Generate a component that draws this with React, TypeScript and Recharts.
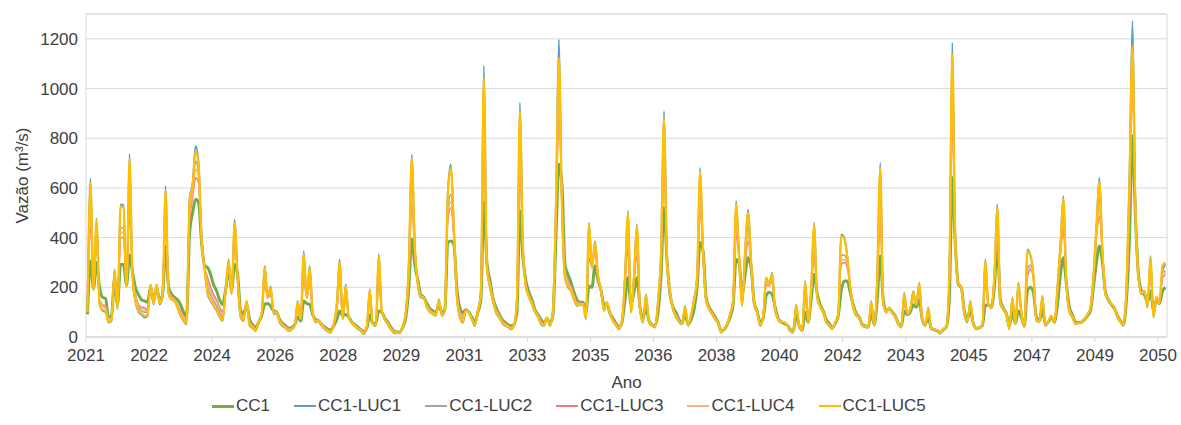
import { LineChart, Line, XAxis, YAxis, CartesianGrid, ReferenceArea } from 'recharts';

// Monthly discharge (m³/s), Jan 2021 – Dec 2050, one row per year
const yearLabels = ['2021', '2022', '2024', '2026', '2028', '2029', '2031', '2033', '2035', '2036', '2038', '2040', '2042', '2043', '2045', '2047', '2049', '2050'];
const yTicks = [0, 200, 400, 600, 800, 1000, 1200];

const cc1 = [
  91, 306, 195, 300, 200, 160, 155, 80, 85, 230, 130, 292,
  292, 210, 330, 260, 198, 170, 150, 145, 140, 200, 145, 200,
  150, 170, 366, 200, 172, 160, 150, 130, 100, 85, 420, 500,
  554, 541, 380, 286, 279, 252, 210, 185, 150, 131, 190, 270,
  190, 292, 250, 105, 95, 130, 70, 50, 38, 60, 85, 131,
  135, 125, 105, 100, 70, 55, 45, 35, 38, 50, 80, 64,
  145, 135, 131, 90, 70, 65, 50, 40, 32, 28, 45, 70,
  105, 85, 91, 80, 60, 50, 40, 30, 22, 35, 90, 55,
  55, 105, 100, 75, 60, 40, 25, 20, 20, 40, 78, 200,
  393, 292, 230, 170, 160, 135, 115, 105, 98, 130, 100, 110,
  380, 386, 373, 198, 118, 98, 110, 100, 80, 60, 100, 150,
  541, 300, 230, 158, 120, 95, 71, 60, 50, 45, 50, 100,
  507, 319, 225, 180, 150, 110, 90, 71, 55, 75, 55, 90,
  400, 695, 614, 292, 252, 220, 180, 150, 140, 140, 100, 205,
  200, 286, 230, 190, 130, 130, 95, 75, 55, 40, 60, 150,
  239, 131, 180, 239, 120, 75, 120, 65, 50, 45, 100, 250,
  520, 306, 172, 120, 98, 70, 55, 95, 50, 70, 110, 200,
  380, 346, 160, 120, 100, 80, 60, 25, 30, 50, 80, 130,
  312, 300, 172, 250, 319, 280, 140, 105, 60, 75, 165, 180,
  172, 120, 75, 62, 55, 48, 30, 22, 90, 45, 28, 100,
  60, 150, 252, 175, 130, 105, 70, 55, 38, 55, 85, 185,
  225, 225, 180, 130, 95, 80, 50, 45, 40, 100, 50, 150,
  326, 150, 105, 115, 100, 85, 55, 42, 105, 90, 100, 130,
  120, 150, 70, 50, 80, 35, 30, 25, 18, 30, 40, 150,
  641, 373, 212, 199, 105, 70, 110, 55, 35, 38, 45, 125,
  131, 118, 200, 373, 150, 115, 95, 45, 100, 55, 105, 80,
  45, 185, 200, 180, 80, 65, 110, 50, 60, 80, 60, 130,
  250, 319, 212, 120, 90, 60, 58, 60, 70, 85, 105, 200,
  300, 366, 300, 180, 150, 130, 115, 85, 65, 50, 150, 400,
  809, 480, 250, 185, 170, 140, 185, 110, 150, 135, 185, 199,
];

const luc1 = [
  98, 638, 188, 477, 130, 105, 100, 58, 62, 272, 111, 534,
  530, 199, 737, 239, 138, 100, 90, 78, 85, 212, 131, 212,
  131, 160, 608, 172, 150, 145, 115, 85, 64, 51, 560, 620,
  769, 702, 400, 279, 172, 145, 125, 105, 80, 64, 185, 312,
  172, 473, 239, 78, 64, 145, 44, 35, 24, 58, 91, 286,
  158, 205, 91, 98, 58, 44, 35, 24, 30, 44, 145, 71,
  346, 158, 286, 100, 58, 64, 45, 31, 22, 17, 51, 131,
  312, 71, 212, 78, 55, 44, 32, 24, 11, 40, 192, 51,
  44, 333, 105, 70, 51, 30, 17, 15, 17, 44, 100, 300,
  735, 373, 212, 158, 158, 118, 100, 91, 85, 152, 85, 105,
  588, 695, 453, 158, 78, 58, 105, 98, 70, 44, 105, 180,
  1091, 279, 200, 145, 98, 80, 58, 45, 40, 31, 44, 150,
  943, 373, 199, 160, 131, 100, 80, 51, 44, 78, 44, 100,
  550, 1198, 520, 239, 200, 185, 150, 125, 128, 131, 71, 460,
  279, 386, 250, 190, 105, 140, 90, 64, 45, 31, 64, 250,
  507, 98, 250, 453, 105, 58, 172, 58, 45, 38, 150, 350,
  909, 306, 172, 110, 78, 60, 51, 125, 44, 90, 145, 250,
  681, 346, 145, 110, 91, 70, 55, 17, 30, 51, 90, 145,
  547, 333, 125, 350, 514, 306, 131, 98, 44, 78, 239, 212,
  259, 105, 70, 58, 60, 44, 24, 17, 131, 44, 24, 225,
  58, 200, 460, 158, 120, 98, 58, 45, 31, 58, 91, 413,
  400, 330, 200, 118, 85, 78, 44, 40, 38, 145, 44, 250,
  701, 131, 98, 118, 95, 80, 51, 38, 178, 91, 111, 185,
  131, 219, 64, 44, 118, 31, 28, 24, 13, 30, 38, 250,
  1184, 373, 212, 199, 91, 58, 145, 51, 31, 35, 44, 312,
  131, 118, 250, 534, 131, 110, 91, 31, 158, 51, 219, 100,
  38, 353, 330, 252, 64, 60, 165, 44, 60, 85, 58, 200,
  373, 567, 212, 100, 78, 51, 55, 58, 71, 90, 118, 250,
  450, 641, 346, 172, 145, 130, 118, 78, 60, 44, 200, 650,
  1272, 507, 239, 172, 185, 118, 326, 78, 158, 131, 266, 292,
];

const luc2 = [
  150, 560, 190, 430, 140, 125, 115, 68, 70, 250, 120, 440,
  440, 205, 620, 245, 160, 120, 105, 100, 100, 205, 138, 205,
  140, 170, 520, 180, 158, 148, 125, 95, 75, 60, 520, 590,
  708, 660, 390, 275, 200, 170, 145, 125, 100, 80, 185, 290,
  175, 420, 240, 90, 75, 140, 55, 42, 30, 60, 95, 250,
  165, 185, 98, 100, 65, 50, 40, 30, 34, 47, 125, 72,
  292, 158, 250, 98, 65, 66, 50, 36, 27, 22, 52, 115,
  265, 76, 180, 80, 58, 47, 36, 28, 16, 40, 170, 55,
  48, 280, 103, 72, 55, 34, 21, 18, 19, 43, 95, 260,
  614, 350, 220, 165, 158, 125, 106, 97, 90, 145, 90, 106,
  520, 574, 420, 175, 95, 75, 108, 99, 74, 52, 103, 165,
  900, 285, 212, 152, 108, 88, 64, 52, 45, 37, 47, 140,
  800, 355, 208, 167, 138, 106, 85, 60, 50, 77, 50, 98,
  500, 997, 540, 255, 215, 195, 160, 135, 133, 134, 80, 420,
  282, 360, 245, 190, 115, 138, 94, 68, 50, 36, 64, 230,
  440, 110, 235, 400, 112, 64, 160, 63, 50, 42, 140, 320,
  770, 306, 178, 115, 85, 64, 54, 115, 47, 88, 148, 230,
  600, 345, 152, 115, 95, 75, 59, 22, 33, 52, 90, 143,
  480, 320, 140, 320, 450, 300, 137, 102, 52, 78, 225, 210,
  240, 112, 73, 61, 60, 47, 28, 20, 118, 46, 27, 200,
  61, 190, 386, 163, 124, 102, 62, 49, 35, 58, 91, 330,
  330, 300, 205, 125, 90, 80, 48, 44, 41, 130, 47, 220,
  580, 138, 102, 117, 97, 83, 54, 41, 160, 94, 114, 170,
  130, 200, 68, 47, 108, 34, 31, 27, 16, 33, 40, 230,
  1000, 373, 218, 200, 98, 65, 135, 56, 34, 37, 46, 270,
  133, 118, 235, 480, 138, 113, 94, 37, 145, 54, 200, 98,
  43, 272, 290, 245, 70, 63, 155, 48, 61, 84, 61, 185,
  350, 500, 218, 108, 83, 55, 57, 60, 72, 90, 115, 230,
  420, 560, 340, 178, 150, 133, 120, 82, 63, 48, 185, 560,
  1084, 505, 245, 178, 185, 128, 300, 90, 162, 140, 270, 260,
];

const luc3 = [
  200, 447, 192, 386, 150, 130, 125, 75, 75, 230, 125, 400,
  400, 205, 507, 250, 170, 130, 120, 118, 110, 200, 140, 205,
  145, 175, 460, 185, 165, 150, 130, 105, 85, 70, 470, 560,
  641, 620, 380, 280, 239, 200, 170, 150, 120, 100, 185, 270,
  180, 373, 240, 98, 85, 135, 62, 46, 34, 62, 98, 212,
  158, 170, 100, 100, 68, 52, 42, 33, 36, 48, 110, 70,
  239, 158, 212, 95, 68, 66, 52, 38, 29, 24, 50, 100,
  225, 80, 158, 80, 60, 48, 38, 30, 18, 38, 150, 56,
  50, 225, 100, 73, 57, 36, 23, 19, 20, 42, 90, 230,
  541, 335, 225, 168, 160, 128, 110, 100, 93, 140, 93, 107,
  470, 520, 400, 185, 105, 85, 108, 99, 76, 55, 102, 160,
  789, 290, 218, 155, 112, 90, 66, 55, 47, 40, 48, 130,
  695, 340, 212, 170, 140, 108, 87, 64, 52, 76, 52, 96,
  460, 909, 560, 265, 225, 205, 168, 140, 136, 135, 85, 319,
  283, 346, 240, 190, 120, 135, 96, 70, 52, 38, 63, 210,
  360, 118, 225, 333, 118, 68, 150, 66, 52, 44, 130, 290,
  681, 306, 180, 117, 88, 66, 55, 108, 48, 86, 158, 215,
  514, 346, 155, 117, 97, 77, 60, 24, 34, 52, 88, 140,
  413, 310, 150, 290, 386, 295, 140, 104, 56, 77, 212, 205,
  225, 115, 74, 62, 59, 48, 29, 21, 108, 45, 28, 170,
  62, 180, 339, 165, 126, 103, 64, 50, 36, 57, 90, 292,
  300, 280, 205, 128, 92, 80, 49, 45, 42, 120, 48, 200,
  487, 142, 104, 116, 98, 84, 55, 42, 131, 95, 116, 160,
  128, 185, 69, 48, 100, 35, 32, 27, 17, 33, 40, 210,
  876, 373, 220, 200, 100, 67, 128, 57, 35, 38, 46, 212,
  133, 118, 225, 440, 142, 114, 95, 39, 135, 55, 185, 96,
  44, 245, 270, 240, 72, 64, 145, 49, 61, 83, 61, 175,
  330, 433, 215, 112, 86, 57, 57, 60, 72, 90, 113, 215,
  400, 487, 335, 180, 150, 133, 118, 84, 64, 49, 175, 500,
  1010, 500, 245, 180, 185, 132, 245, 95, 162, 145, 239, 250,
];

const luc4 = [
  180, 500, 190, 410, 145, 128, 120, 72, 72, 240, 122, 420,
  420, 205, 560, 248, 165, 125, 115, 110, 105, 202, 140, 205,
  142, 172, 490, 182, 160, 150, 128, 100, 80, 65, 500, 575,
  675, 640, 385, 278, 220, 185, 160, 140, 110, 90, 185, 280,
  178, 400, 240, 95, 80, 138, 58, 44, 32, 61, 96, 230,
  160, 178, 100, 100, 66, 51, 41, 31, 35, 48, 118, 71,
  265, 158, 230, 96, 66, 66, 51, 37, 28, 23, 51, 108,
  245, 78, 170, 80, 59, 48, 37, 29, 17, 39, 160, 55,
  49, 250, 102, 72, 56, 35, 22, 18, 20, 43, 92, 245,
  580, 340, 222, 166, 159, 126, 108, 98, 92, 142, 92, 106,
  495, 545, 410, 180, 100, 80, 108, 99, 75, 54, 103, 162,
  850, 288, 215, 154, 110, 89, 65, 54, 46, 39, 48, 135,
  750, 348, 210, 168, 139, 107, 86, 62, 51, 77, 51, 97,
  480, 950, 550, 260, 220, 200, 164, 138, 135, 135, 83, 360,
  283, 352, 242, 190, 118, 136, 95, 69, 51, 37, 64, 220,
  400, 115, 230, 365, 115, 66, 155, 65, 51, 43, 135, 305,
  720, 306, 179, 116, 86, 65, 55, 112, 48, 87, 152, 222,
  550, 346, 154, 116, 96, 76, 60, 23, 33, 52, 89, 142,
  445, 315, 145, 305, 415, 298, 138, 103, 54, 77, 218, 208,
  232, 114, 74, 62, 60, 47, 28, 21, 112, 46, 28, 185,
  62, 185, 360, 164, 125, 102, 63, 50, 35, 58, 90, 310,
  310, 290, 205, 127, 91, 80, 48, 44, 42, 125, 48, 210,
  530, 140, 103, 117, 98, 84, 55, 42, 145, 95, 115, 165,
  129, 192, 68, 48, 104, 34, 31, 27, 16, 33, 40, 220,
  930, 373, 219, 200, 99, 66, 130, 56, 35, 38, 46, 240,
  133, 118, 230, 460, 140, 114, 94, 38, 140, 55, 192, 97,
  44, 260, 280, 242, 71, 64, 150, 49, 61, 84, 61, 180,
  340, 465, 216, 110, 85, 56, 57, 60, 72, 90, 114, 222,
  410, 520, 338, 179, 150, 133, 119, 83, 64, 49, 180, 530,
  1040, 502, 245, 179, 185, 130, 270, 92, 162, 142, 255, 255,
];

const luc5 = [
  100, 621, 190, 470, 135, 110, 105, 62, 65, 265, 115, 525,
  520, 200, 715, 240, 145, 105, 95, 85, 90, 210, 135, 210,
  135, 165, 590, 175, 152, 145, 118, 88, 68, 55, 550, 610,
  749, 690, 395, 275, 180, 150, 130, 110, 85, 68, 185, 305,
  175, 460, 240, 85, 68, 145, 48, 38, 26, 60, 92, 280,
  160, 200, 95, 100, 62, 47, 37, 26, 32, 46, 140, 72,
  335, 158, 280, 100, 60, 65, 47, 33, 24, 19, 52, 128,
  300, 73, 205, 80, 57, 46, 34, 26, 13, 41, 190, 53,
  46, 325, 105, 72, 53, 32, 19, 17, 19, 45, 100, 290,
  720, 370, 215, 160, 158, 120, 102, 93, 87, 150, 87, 105,
  575, 680, 445, 162, 82, 62, 105, 98, 72, 47, 105, 175,
  1044, 280, 205, 148, 102, 83, 61, 48, 42, 34, 46, 148,
  910, 370, 202, 162, 133, 103, 82, 54, 47, 78, 47, 100,
  530, 1124, 525, 242, 205, 188, 153, 128, 130, 132, 74, 455,
  280, 380, 250, 190, 108, 140, 92, 66, 47, 33, 65, 245,
  495, 100, 245, 445, 108, 60, 170, 60, 47, 40, 145, 340,
  880, 306, 175, 112, 80, 62, 53, 122, 46, 90, 145, 245,
  665, 345, 148, 112, 93, 72, 57, 19, 32, 52, 92, 145,
  535, 330, 128, 345, 500, 305, 134, 100, 47, 79, 235, 212,
  255, 108, 72, 60, 61, 46, 26, 19, 128, 46, 26, 220,
  60, 198, 450, 160, 122, 100, 60, 47, 33, 59, 92, 405,
  395, 325, 200, 120, 87, 79, 46, 42, 40, 140, 46, 245,
  680, 134, 100, 118, 96, 82, 53, 40, 175, 93, 112, 180,
  132, 215, 66, 46, 115, 33, 30, 26, 15, 32, 40, 245,
  1140, 373, 215, 200, 95, 62, 142, 54, 33, 37, 46, 305,
  133, 118, 245, 520, 134, 112, 93, 34, 155, 53, 215, 100,
  41, 345, 325, 250, 67, 62, 162, 46, 61, 85, 60, 195,
  365, 555, 215, 103, 80, 53, 56, 59, 72, 90, 117, 245,
  440, 625, 345, 175, 148, 132, 120, 80, 62, 47, 195, 620,
  1171, 510, 242, 175, 185, 122, 320, 82, 160, 135, 290, 300,
];

const series = [
  { key: 'cc1', name: 'CC1', values: cc1, color: '#70AD47', width: 3 },
  { key: 'luc1', name: 'CC1-LUC1', values: luc1, color: '#5B9BD5', width: 1.8 },
  { key: 'luc2', name: 'CC1-LUC2', values: luc2, color: '#A5A5A5', width: 1.6 },
  { key: 'luc3', name: 'CC1-LUC3', values: luc3, color: '#F4777B', width: 1.6 },
  { key: 'luc4', name: 'CC1-LUC4', values: luc4, color: '#F4B183', width: 1.6 },
  { key: 'luc5', name: 'CC1-LUC5', values: luc5, color: '#FFC000', width: 2.2 },
];

// one point per month, plotted mid-month; x is months since Jan 2021
const data = luc1.map((_, i) => {
  const row: Record<string, number> = { t: i + 0.5 };
  series.forEach((s) => {
    row[s.key] = s.values[i];
  });
  return row;
});

const LABEL_STEP = 21; // an axis label every 21 months
const xTicks = yearLabels.map((_, i) => i * LABEL_STEP);

const font = "'Liberation Sans', Arial, sans-serif";
const textColor = '#404040';

export default function App() {
  return (
    <div style={{ position: 'absolute', left: 0, top: 0, width: 1181, height: 425, background: '#fff', fontFamily: font }}>
      <LineChart width={1181} height={425} data={data} margin={{ top: 14, right: 14, left: 0, bottom: 33 }}>
        <CartesianGrid vertical={false} stroke="#D9D9D9" />
        <ReferenceArea x1={0} x2={360} y1={0} y2={1300} fill="none" stroke="#D9D9D9" ifOverflow="visible" />
        <XAxis
          dataKey="t"
          type="number"
          domain={[0, 360]}
          ticks={xTicks}
          interval={0}
          tickFormatter={(v) => yearLabels[Math.round(v / LABEL_STEP)]}
          tick={{ fill: textColor, fontSize: 17, fontFamily: font }}
          axisLine={{ stroke: '#D9D9D9' }}
          tickLine={{ stroke: '#D9D9D9' }}
          tickSize={5}
          tickMargin={7}
          height={55}
          label={{ value: 'Ano', position: 'insideBottom', offset: 4, fill: textColor, fontSize: 17, fontFamily: font }}
        />
        <YAxis
          type="number"
          domain={[0, 1300]}
          ticks={yTicks}
          width={86}
          axisLine={false}
          tickLine={false}
          tick={{ fill: textColor, fontSize: 17, fontFamily: font }}
          label={{
            value: 'Vazão (m³/s)',
            angle: -90,
            position: 'insideLeft',
            offset: 22,
            fill: textColor,
            fontSize: 17,
            fontFamily: font,
            style: { textAnchor: 'middle' },
          }}
        />
        {series.map((s) => (
          <Line
            key={s.key}
            type="monotone"
            dataKey={s.key}
            name={s.name}
            stroke={s.color}
            strokeWidth={s.width}
            dot={false}
            activeDot={false}
            isAnimationActive={false}
          />
        ))}
      </LineChart>
      <div
        style={{
          position: 'absolute',
          left: 212,
          top: 396,
          display: 'flex',
          gap: 24,
          fontSize: 17,
          color: textColor,
          whiteSpace: 'nowrap',
        }}
      >
        {series.map((s) => (
          <div key={s.key} style={{ display: 'flex', alignItems: 'center', gap: 2 }}>
            <span style={{ display: 'inline-block', width: 22, height: Math.min(s.width, 3), background: s.color }} />
            <span>{s.name}</span>
          </div>
        ))}
      </div>
    </div>
  );
}
